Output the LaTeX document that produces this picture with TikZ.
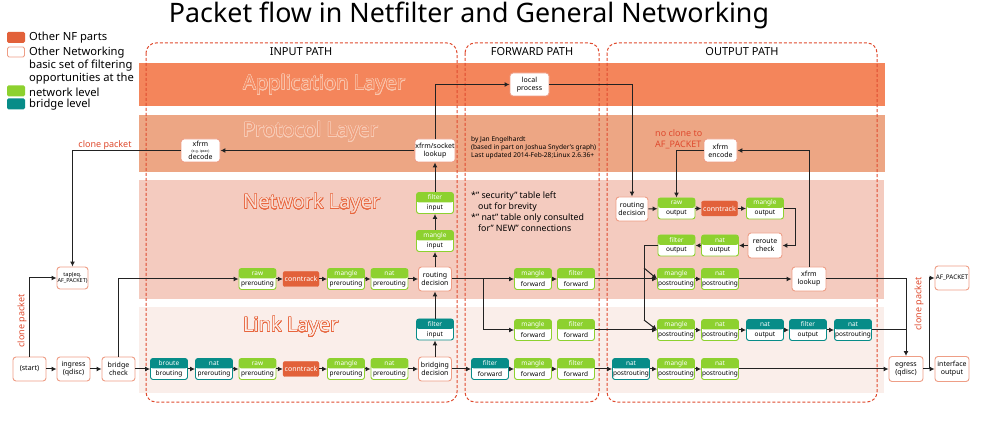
\documentclass[tikz,border=0pt]{standalone}
\usepackage{fontspec}
\setmainfont{Noto Sans}
\usepackage[copies]{contour}
\contourlength{0.45pt}
\contournumber{24}
\usetikzlibrary{arrows.meta}
\definecolor{cgreen}{HTML}{8DD12F}
\definecolor{cteal}{HTML}{078C88}
\definecolor{corange}{HTML}{E2613A}
\definecolor{cbord}{HTML}{EE9E86}
\definecolor{capp}{HTML}{F4855B}
\definecolor{cproto}{HTML}{EDA684}
\definecolor{cnet}{HTML}{F4CBBF}
\definecolor{clink}{HTML}{FAEEEA}
\definecolor{cdash}{HTML}{E04B2F}
\definecolor{cred}{HTML}{DF4A2E}
\definecolor{cline}{HTML}{222222}
\definecolor{appTxt}{HTML}{F58C63}
\definecolor{appOut}{HTML}{FAC6AE}
\definecolor{proTxt}{HTML}{EF9E7B}
\definecolor{proOut}{HTML}{F8CDB8}
\definecolor{netTxt}{HTML}{F9DDD3}
\definecolor{netOut}{HTML}{E8663E}
\definecolor{lnkTxt}{HTML}{FCEFEA}
\begin{document}
\begin{tikzpicture}[x=1pt,y=-1pt,
  tbl/.style n args={3}{draw=#1, fill=white, rounded corners=2.5pt, minimum width=37pt, minimum height=21pt, inner sep=0pt, line width=0.9pt,
    path picture={
      \fill[#1] (path picture bounding box.north west) rectangle ([yshift=-10pt]path picture bounding box.north east);
      \node[font=\fontsize{6.5}{7}\selectfont, text=white, inner sep=0pt] at ([yshift=-5pt]path picture bounding box.north) {#2};
      \node[font=\fontsize{6.5}{7}\selectfont, text=black, inner sep=0pt] at ([yshift=-15.5pt]path picture bounding box.north) {#3};
    }},
  conn/.style={fill=corange, draw=corange, rounded corners=2pt, minimum width=36pt, minimum height=15pt, inner sep=0pt, text=white, font=\fontsize{7}{8}\selectfont},
  oth/.style={draw=cbord, fill=white, rounded corners=3pt, line width=0.9pt, inner sep=0.5pt, align=center, font=\fontsize{7}{8}\selectfont, minimum width=33pt, minimum height=24pt},
  arr/.style={draw=cline, line width=1pt, -{Latex[length=5pt,width=5pt]}},
  ln/.style={draw=cline, line width=1pt},
  pathbox/.style={draw=cdash, dash pattern=on 3pt off 2pt, line width=1pt, rounded corners=10pt},
  redlbl/.style={text=cred, font=\fontsize{9}{11}\selectfont},
  legtxt/.style={anchor=west, font=\fontsize{11.2}{13}\selectfont, inner sep=0pt},
  laylbl/.style={anchor=west, font=\fontsize{20}{21}\selectfont, inner sep=0pt},
  pathlbl/.style={font=\fontsize{11}{13}\selectfont},
]
\useasboundingbox (0,0) rectangle (991,446);
\fill[white] (0,0) rectangle (991,446);

% layer bands
\fill[capp] (139,63) rectangle (885,106);
\fill[cproto] (139,115) rectangle (885,172);
\fill[cnet] (139,180) rectangle (884,299);
\fill[clink] (139,307) rectangle (884,393);

% layer labels
\node[laylbl, text=appTxt] (lapp) at (243,85) {\contour{appOut}{Application Layer}};
\node[laylbl, text=proTxt] (lpro) at (243,132) {\contour{proOut}{Protocol Layer}};
\node[laylbl, text=netTxt] (lnet) at (243,204) {\contour{netOut}{Network Layer}};
\node[laylbl, text=lnkTxt] (llnk) at (243,327) {\contour{netOut}{Link Layer}};

% path boxes
\draw[pathbox] (146,43) rectangle (457,402);
\draw[pathbox] (465,43) rectangle (599,402);
\draw[pathbox] (607,43) rectangle (877,402);
\node[pathlbl] (pin) at (301,52) {INPUT PATH};
\node[pathlbl] (pfw) at (532,52) {FORWARD PATH};
\node[pathlbl] (pout) at (742,52) {OUTPUT PATH};

% title
\node[font=\fontsize{26.8}{32}\selectfont] (title) at (469,15) {Packet flow in Netfilter and General Networking};

% legend
\node[fill=corange, rounded corners=1.5pt, minimum width=18pt, minimum height=11pt, inner sep=0pt] (lg1) at (16,37.5) {};
\node[draw=cbord, line width=0.8pt, fill=white, rounded corners=1.5pt, minimum width=17pt, minimum height=10pt, inner sep=0pt] (lg2) at (16,52) {};
\node[fill=cgreen, rounded corners=1.5pt, minimum width=18pt, minimum height=11pt, inner sep=0pt] (lg3) at (16,91) {};
\node[fill=cteal, rounded corners=1.5pt, minimum width=18pt, minimum height=11pt, inner sep=0pt] (lg4) at (16,104) {};
\node[legtxt] (lt1) at (29,38) {Other NF parts};
\node[legtxt] (lt2) at (29,53) {Other Networking};
\node[legtxt] (lt3) at (29,66) {basic set of filtering};
\node[legtxt] (lt4) at (29,79) {opportunities at the};
\node[legtxt] (lt5) at (29,92) {network level};
\node[legtxt] (lt6) at (29,105) {bridge level};

% credits and notes
\node[anchor=north west, align=left, font=\fontsize{6.6}{8}\selectfont, inner sep=0pt] (cred) at (471,136) {by Jan Engelhardt\\(based in part on Joshua Snyder's graph)\\Last updated 2014-Feb-28;Linux 2.6.36+};
\node[anchor=north west, align=left, font=\fontsize{8.8}{10.7}\selectfont, inner sep=0pt] (notes) at (471,192) {*" security"\ table left\\\hspace{7pt}out for brevity\\*" nat"\ table only consulted\\\hspace{7pt}for" NEW"\ connections};

% red labels
\node[redlbl] (cp1) at (105,145) {clone packet};
\node[redlbl, rotate=90] (cp2) at (22,321) {clone packet};
\node[redlbl, rotate=90] (cp3) at (919,304) {clone packet};
\node[redlbl, anchor=north west, align=left, inner sep=0pt] (nc) at (655,129) {no clone to\\AF\_PACKET};

% ---- left nodes
\node[oth] (start) at (29.5,369) {(start)};
\node[oth] (ingress) at (73.5,369) {ingress\\(qdisc)};
\node[oth] (bcheck) at (118.5,369) {bridge\\check};
\node[oth, minimum width=31pt, minimum height=22pt, font=\fontsize{5.5}{6.5}\selectfont] (tap) at (72.5,278) {tap(eq.\\AF\_PACKET)};

% ---- input path
\node[tbl={cteal}{broute}{brouting}] (broute) at (169,369) {};
\node[tbl={cteal}{nat}{prerouting}] (lnatpre) at (214,369) {};
\node[tbl={cgreen}{raw}{prerouting}] (lrawpre) at (257.5,369) {};
\node[conn] (lconn) at (301,369) {conntrack};
\node[tbl={cgreen}{mangle}{prerouting}] (lmanpre) at (346,369) {};
\node[tbl={cgreen}{nat}{prerouting}] (lnatpre2) at (389.5,369) {};
\node[oth] (bdec) at (435,369) {bridging\\decision};
\node[tbl={cteal}{filter}{input}] (lfiltin) at (435,329.5) {};

\node[tbl={cgreen}{raw}{prerouting}] (nrawpre) at (257.5,279) {};
\node[conn] (nconn) at (301,279) {conntrack};
\node[tbl={cgreen}{mangle}{prerouting}] (nmanpre) at (346,279) {};
\node[tbl={cgreen}{nat}{prerouting}] (nnatpre) at (389.5,279) {};
\node[oth] (rdec) at (435,279) {routing\\decision};
\node[tbl={cgreen}{mangle}{input}] (nmanin) at (435,241) {};
\node[tbl={cgreen}{filter}{input}] (nfiltin) at (435,203) {};

\node[oth, minimum width=39pt, minimum height=23pt] (sock) at (435,150.5) {xfrm/socket\\lookup};
\node[oth, minimum width=39pt, minimum height=23pt] (xdec) at (200.5,150.5) {xfrm\\[-2pt]{\fontsize{3.5}{4}\selectfont (e.g. ipsec)}\\[-1pt]decode};
\node[oth, minimum width=39pt, minimum height=23pt] (local) at (529.5,84.5) {local\\process};

% ---- forward path
\node[tbl={cgreen}{mangle}{forward}] (fmanN) at (533,279) {};
\node[tbl={cgreen}{filter}{forward}] (ffiltN) at (576,279) {};
\node[tbl={cgreen}{mangle}{forward}] (fmanM) at (533,330) {};
\node[tbl={cgreen}{filter}{forward}] (ffiltM) at (576,330) {};
\node[tbl={cteal}{filter}{forward}] (ffiltB) at (490,369) {};
\node[tbl={cgreen}{mangle}{forward}] (fmanB) at (533,369) {};
\node[tbl={cgreen}{filter}{forward}] (ffiltB2) at (576,369) {};

% ---- output path
\node[oth, minimum width=32pt] (ordec) at (632,209) {routing\\decision};
\node[tbl={cgreen}{raw}{output}] (orawout) at (676.5,208.5) {};
\node[conn] (oconn) at (719.5,208.5) {conntrack};
\node[tbl={cgreen}{mangle}{output}] (omanout) at (765,208.5) {};
\node[tbl={cgreen}{filter}{output}] (ofiltout) at (676.5,245.5) {};
\node[tbl={cgreen}{nat}{output}] (onatout) at (720,245.5) {};
\node[oth, minimum width=34pt, minimum height=25pt] (reroute) at (765,245.5) {reroute\\check};
\node[oth, minimum width=33pt, minimum height=23pt] (xenc) at (720.5,150.5) {xfrm\\encode};

\node[tbl={cgreen}{mangle}{postrouting}] (omanpostN) at (676,279) {};
\node[tbl={cgreen}{nat}{postrouting}] (onatpostN) at (720,279) {};
\node[oth, minimum width=34pt] (xlook) at (809,279) {xfrm\\lookup};

\node[tbl={cgreen}{mangle}{postrouting}] (omanpostM) at (676,330) {};
\node[tbl={cgreen}{nat}{postrouting}] (onatpostM) at (720,330) {};
\node[tbl={cteal}{nat}{output}] (onatoutM) at (765,330) {};
\node[tbl={cteal}{filter}{output}] (ofiltoutM) at (808,330) {};
\node[tbl={cteal}{nat}{postrouting}] (onatpostM2) at (853,330) {};

\node[tbl={cteal}{nat}{postrouting}] (onatpostB) at (631,369) {};
\node[tbl={cgreen}{mangle}{postrouting}] (omanpostB) at (676,369) {};
\node[tbl={cgreen}{nat}{postrouting}] (onatpostB2) at (720,369) {};

\node[oth, minimum width=34pt, minimum height=25pt] (egress) at (906,369) {egress\\(qdisc)};
\node[oth, minimum width=34pt, minimum height=25pt] (ifout) at (952,369) {interface\\output};
\node[oth, minimum width=34pt, minimum height=24pt, font=\fontsize{6.3}{7}\selectfont] (afp) at (952,278) {AF\_PACKET};

% ---- helper coordinates
\coordinate (fsplit) at (483,279);
\coordinate (ob0) at (644,245.5);
\coordinate (ob1) at (644,268);
\coordinate (ob2) at (644,320);
\coordinate (rrc) at (795,245.5);
\coordinate (esplit) at (929,369);
\coordinate (joinM) at (906,330);

% ---- connectors
\draw[arr] (start) -- (ingress);
\draw[arr] (ingress) -- (bcheck);
\draw[arr] (bcheck) -- (broute);
\draw[arr] (start.north) |- (tap.west);
\draw[arr] (bcheck.north) |- (nrawpre.west);
\draw[arr] (broute) -- (lnatpre);
\draw[arr] (lnatpre) -- (lrawpre);
\draw[arr] (lrawpre) -- (lconn);
\draw[arr] (lconn) -- (lmanpre);
\draw[arr] (lmanpre) -- (lnatpre2);
\draw[arr] (lnatpre2) -- (bdec);
\draw[arr] (bdec) -- (lfiltin);
\draw[arr] (lfiltin) -- (rdec);
\draw[arr] (nrawpre) -- (nconn);
\draw[arr] (nconn) -- (nmanpre);
\draw[arr] (nmanpre) -- (nnatpre);
\draw[arr] (nnatpre) -- (rdec);
\draw[arr] (rdec) -- (nmanin);
\draw[arr] (nmanin) -- (nfiltin);
\draw[arr] (nfiltin) -- (sock);
\draw[arr] (sock) -- (xdec);
\draw[arr] (xdec.west) -| (tap.north);
\draw[arr] (sock.north) |- (local.west);
\draw[arr] (local.east) -| (ordec.north);

\draw[arr] (rdec) -- (fmanN);
\draw[arr] (fsplit) |- (fmanM.west);
\draw[arr] (fmanN) -- (ffiltN);
\draw[arr] (ffiltN) -- (omanpostN);
\draw[arr] (ffiltM) -- (omanpostM);
\draw[arr] (bdec) -- (ffiltB);
\draw[arr] (ffiltB) -- (fmanB);
\draw[arr] (fmanB) -- (ffiltB2);
\draw[arr] (ffiltB2) -- (onatpostB);

\draw[arr] (ordec) -- (orawout);
\draw[arr] (orawout) -- (oconn);
\draw[arr] (oconn) -- (omanout);
\draw[arr] (omanout.east) -| (rrc) -- (reroute.east);
\draw[arr] (reroute) -- (onatout);
\draw[arr] (onatout) -- (ofiltout);
\draw[ln] (ofiltout.west) -- (ob0) -- (ob2);
\draw[arr] (ob1) -- (omanpostN.west);
\draw[arr] (ob2) -- (omanpostM.west);
\draw[arr] (omanpostN) -- (onatpostN);
\draw[arr] (onatpostN) -- (xlook);
\draw[arr] (xlook.north) |- (xenc.east);
\draw[arr] (xenc.west) -| (orawout.north);
\draw[arr] (xlook.east) -| (egress.north);
\draw[arr] (omanpostM) -- (onatpostM);
\draw[arr] (onatpostM) -- (onatoutM);
\draw[arr] (onatoutM) -- (ofiltoutM);
\draw[arr] (ofiltoutM) -- (onatpostM2);
\draw[ln] (onatpostM2.east) -- (joinM);
\draw[arr] (onatpostB) -- (omanpostB);
\draw[arr] (omanpostB) -- (onatpostB2);
\draw[arr] (onatpostB2) -- (egress);
\draw[arr] (egress) -- (ifout);
\draw[arr] (esplit) |- (afp.west);
\end{tikzpicture}
\end{document}
